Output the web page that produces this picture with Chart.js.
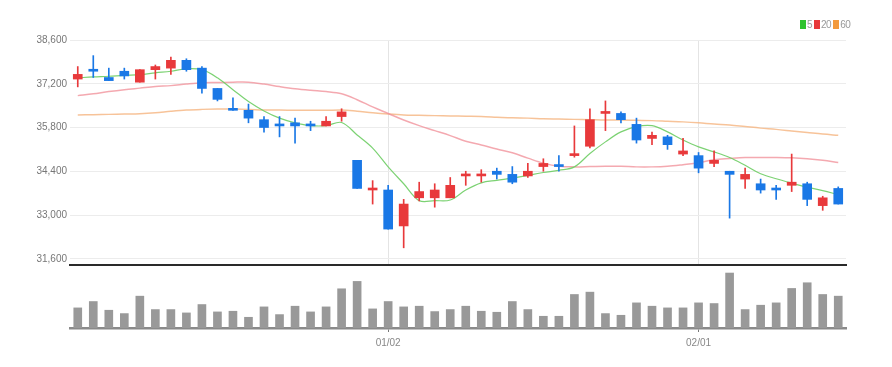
<!DOCTYPE html>
<html>
<head>
<meta charset="utf-8">
<script src="https://cdn.jsdelivr.net/npm/chart.js@4"></script>
<style>
  html, body { margin: 0; padding: 0; background: #fff; }
  #wrap { position: relative; width: 892px; height: 367px; }
  #priceBox { position: absolute; left: 0; top: 0; width: 892px; height: 274px; }
  #volBox { position: absolute; left: 0; top: 262px; width: 892px; height: 105px; }
  #legend { position: absolute; top: 19px; left: 800px; font: 10px 'Liberation Sans', sans-serif;
            color: #999; white-space: nowrap; letter-spacing: -0.5px; }
  #legend span.box { display: inline-block; width: 6px; height: 9px; vertical-align: -1px; margin-right: 1px; }
  #legend span.txt { margin-right: 2px; }
</style>
</head>
<body>
<div id="wrap">
  <div id="priceBox"><canvas id="priceChart"></canvas></div>
  <div id="volBox"><canvas id="volChart"></canvas></div>
  <div id="legend"></div>
</div>
<script>
// trading days, Dec 2022 - Feb 2023
var dates = ['12/02','12/05','12/06','12/07','12/08','12/09','12/12','12/13','12/14','12/15',
             '12/16','12/19','12/20','12/21','12/22','12/23','12/26','12/27','12/28','12/29',
             '01/02','01/03','01/04','01/05','01/06','01/09','01/10','01/11','01/12','01/13',
             '01/16','01/17','01/18','01/19','01/20','01/25','01/26','01/27','01/30','01/31',
             '02/01','02/02','02/03','02/06','02/07','02/08','02/09','02/10','02/13','02/14'];
var xMarks = ['01/02', '02/01'];
var yTicks = [31600, 33000, 34400, 35800, 37200, 38600];

var opens  = [37350,37650,37400,37600,37250,37650,37700,37950,37700,37050,
              36400,36350,36050,35900,35950,35900,35850,36150,34750,33800,
              33800,32650,33550,33550,33550,34250,34250,34400,34300,34250,
              34550,34600,34900,35200,36250,36250,35900,35450,35500,34950,
              34900,34650,34400,34150,34000,33850,33950,34000,33300,33850];
var highs  = [37750,38100,37700,37700,37650,37800,38050,38000,37750,37050,
              36750,36550,36150,36150,36100,36000,36150,36400,34750,34100,
              33950,33500,34050,34000,34200,34400,34450,34500,34550,34650,
              34800,34900,35850,36400,36650,36300,36100,35650,35550,35450,
              35000,35050,34400,34500,34150,33950,34950,34050,33600,33900];
var lows   = [37100,37400,37300,37350,37250,37350,37500,37600,36900,36650,
              36350,35950,35650,35500,35300,35700,35850,36000,33850,33350,
              32550,31950,33450,33250,33550,33950,34050,34150,34000,34200,
              34400,34400,34850,35150,35700,35950,35300,35250,35100,34900,
              34350,34550,32900,33850,33700,33500,33750,33300,33150,33350];
var closes = [37500,37600,37300,37450,37650,37750,37950,37650,37050,36700,
              36350,36100,35800,35850,35850,35850,36000,36300,33850,33850,
              32550,33350,33750,33800,33950,34300,34300,34300,34050,34400,
              34650,34550,34950,36050,36300,36050,35400,35550,35250,35050,
              34500,34750,34300,34300,33800,33800,34050,33500,33550,33350];
var volumes = [60000,79000,53000,43000,95000,55000,55000,45000,70000,48000,
               50000,32000,63000,40000,65000,48000,63000,117000,139000,57000,
               79000,63000,65000,49000,55000,65000,50000,47000,79000,55000,
               35000,35000,100000,107000,43000,38000,75000,65000,60000,60000,
               75000,73000,164000,55000,68000,75000,118000,135000,100000,95000];
var ma5  = [37390,37420,37440,37470,37490,37550,37600,37680,37650,37390,
            37010,36630,36330,36100,35950,35860,35860,35960,35560,35140,
            34540,34000,33460,33460,33480,33800,34030,34110,34180,34270,
            34360,34430,34540,34970,35340,35660,35830,35860,35660,35400,
            35180,35020,34840,34590,34320,34160,34020,33890,33780,33650];
var ma20 = [36820,36880,36950,37010,37060,37110,37140,37190,37230,37240,
            37250,37250,37190,37110,37040,36990,36950,36880,36690,36460,
            36250,36040,35860,35700,35540,35360,35240,35110,34990,34820,
            34660,34560,34540,34550,34560,34560,34540,34540,34560,34610,
            34670,34770,34810,34840,34840,34840,34830,34800,34750,34680];
var ma60 = [36200,36210,36220,36230,36240,36270,36320,36360,36380,36390,
            36390,36380,36360,36360,36350,36350,36350,36360,36320,36270,
            36230,36200,36190,36180,36170,36160,36150,36130,36110,36100,
            36080,36070,36060,36050,36040,36040,36030,36020,36000,35980,
            35950,35910,35880,35830,35780,35740,35690,35640,35590,35550];

var UP = '#e8393b', DOWN = '#1a78e6';
var FONT = "'Liberation Sans', sans-serif";

function candleColor(ctx) {
  var i = ctx.dataIndex;
  return closes[i] >= opens[i] ? UP : DOWN;
}

var bodies = dates.map(function (d, i) { return [opens[i], closes[i]]; });
var wicks = dates.map(function (d, i) { return [lows[i], highs[i]]; });

var priceChart = new Chart(document.getElementById('priceChart'), {
  type: 'bar',
  data: {
    labels: dates,
    datasets: [
      { label: 'body', data: bodies, backgroundColor: candleColor, barThickness: 9,
        minBarLength: 2, grouped: false, order: 0 },
      { label: 'wick', data: wicks, backgroundColor: candleColor, barThickness: 1,
        grouped: false, order: 1 },
      { type: 'line', label: '5', data: ma5, borderColor: 'rgba(110,205,100,0.9)',
        backgroundColor: '#2fc22f', borderWidth: 1.2, pointRadius: 0, tension: 0.35, order: 2 },
      { type: 'line', label: '20', data: ma20, borderColor: 'rgba(240,140,150,0.75)',
        backgroundColor: '#e8393b', borderWidth: 1.5, pointRadius: 0, tension: 0.35, order: 3 },
      { type: 'line', label: '60', data: ma60, borderColor: 'rgba(246,185,135,0.85)',
        backgroundColor: '#f39a3c', borderWidth: 1.5, pointRadius: 0, tension: 0.35, order: 4 }
    ]
  },
  options: {
    responsive: true,
    maintainAspectRatio: false,
    animation: false,
    layout: { padding: { left: 0, right: 46, top: 40, bottom: 2 } },
    plugins: { legend: { display: false }, tooltip: { enabled: false } },
    scales: {
      x: {
        offset: true,
        ticks: { display: false },
        grid: {
          offset: false, drawTicks: false,
          color: function (ctx) { return xMarks.indexOf(dates[ctx.index]) >= 0 ? '#e4e4e4' : 'rgba(0,0,0,0)'; }
        },
        border: { display: true, color: '#2a2a2a', width: 2 }
      },
      y: {
        min: 31400,
        max: 38600,
        afterBuildTicks: function (scale) { scale.ticks = yTicks.map(function (v) { return { value: v }; }); },
        afterFit: function (scale) { scale.width = 70; },
        ticks: {
          color: '#777', font: { family: FONT, size: 10 }, padding: 3,
          callback: function (v) { return v.toLocaleString('en-US'); }
        },
        grid: { color: '#ececec', drawTicks: false },
        border: { display: false }
      }
    }
  }
});

// legend for the moving averages, built from the line datasets
var legendBox = document.getElementById('legend');
priceChart.data.datasets.forEach(function (ds) {
  if (ds.type !== 'line') return;
  var b = document.createElement('span');
  b.className = 'box';
  b.style.background = ds.backgroundColor;
  var t = document.createElement('span');
  t.className = 'txt';
  t.textContent = ds.label;
  legendBox.appendChild(b);
  legendBox.appendChild(t);
});

new Chart(document.getElementById('volChart'), {
  type: 'bar',
  data: {
    labels: dates,
    datasets: [
      { label: 'volume', data: volumes, backgroundColor: '#999999', barThickness: 8 }
    ]
  },
  options: {
    responsive: true,
    maintainAspectRatio: false,
    animation: false,
    layout: { padding: { left: 70, right: 46, top: 4, bottom: 13 } },
    plugins: { legend: { display: false }, tooltip: { enabled: false } },
    scales: {
      x: {
        offset: true,
        ticks: {
          autoSkip: false, maxRotation: 0, padding: 5,
          color: '#888', font: { family: FONT, size: 10 },
          callback: function (v, i) { return xMarks.indexOf(dates[i]) >= 0 ? dates[i] : ''; }
        },
        grid: {
          offset: false, drawOnChartArea: false, tickLength: 4,
          color: function (ctx) { return xMarks.indexOf(dates[ctx.index]) >= 0 ? '#777' : 'rgba(0,0,0,0)'; }
        },
        border: { display: true, color: '#8a8a8a', width: 2.5 }
      },
      y: { display: false, min: 0, max: 185000 }
    }
  }
});
</script>
</body>
</html>
